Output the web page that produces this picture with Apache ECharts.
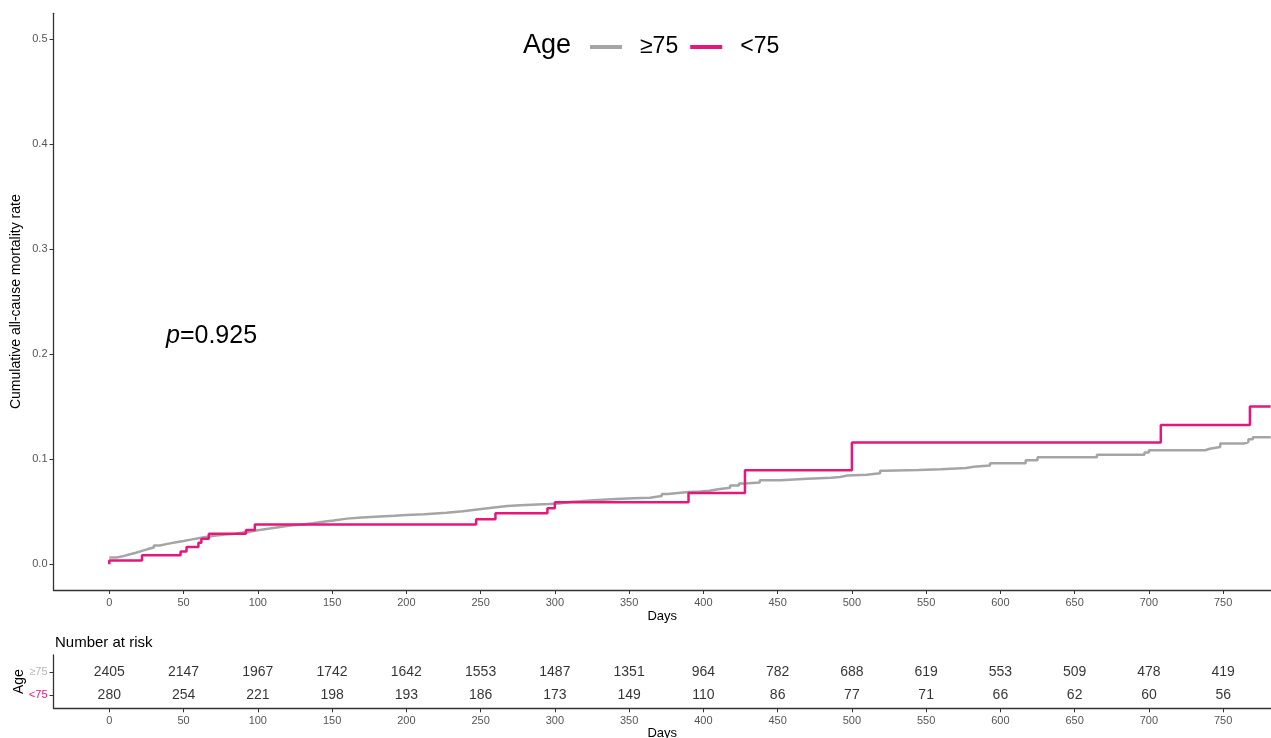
<!DOCTYPE html>
<html>
<head>
<meta charset="utf-8">
<script src="https://cdn.jsdelivr.net/npm/echarts@6.0.0/dist/echarts.min.js"></script>
<style>
html,body{margin:0;padding:0;background:#fff;}
#chart{width:1271px;height:738px;}
</style>
</head>
<body>
<div id="chart"></div>
<script>
// ---- Data ----
const groupNames = ['≥75', '<75'];

const olderDays = [0,5,10,14,18,22,26,30,34,40,45,50,55,60,66,72,78,85,90,95,100,108,115,122,130,137,144,151,160,170,182,192,200,212,227,238,245,252,259,268,277,288,296,303,310,317,326,335,345,353,364,372,376,390,398,404,410,418,424,428,438,452,470,486,492,497,510,519,522,545,560,577,582,593,617,625,665,697,700,738,741,748,764,767,770,782];
const olderRate = [0.0065,0.0080,0.0095,0.0110,0.0128,0.0145,0.0160,0.0180,0.0197,0.0210,0.0222,0.0235,0.0248,0.0262,0.0273,0.0284,0.0292,0.0302,0.0311,0.0325,0.0340,0.0355,0.0370,0.0380,0.0392,0.0405,0.0418,0.0435,0.0445,0.0455,0.0462,0.0470,0.0476,0.0490,0.0505,0.0518,0.0530,0.0542,0.0555,0.0563,0.0570,0.0575,0.0580,0.0594,0.0600,0.0610,0.0618,0.0625,0.0630,0.0634,0.0650,0.0670,0.0689,0.0693,0.0700,0.0715,0.0730,0.0750,0.0770,0.0780,0.0800,0.0815,0.0825,0.0832,0.0845,0.0854,0.0867,0.0890,0.0898,0.0905,0.0917,0.0930,0.0940,0.0962,0.0990,0.1020,0.1044,0.1065,0.1086,0.1100,0.1117,0.1150,0.1165,0.1190,0.1210,0.1210];

const youngerDays = [0,0,22,48,52,60,62,67,92,98,247,260,295,300,390,428,500,708,768,782];
const youngerRate = [0,0.0036,0.0086,0.0121,0.0165,0.0206,0.0244,0.0292,0.0327,0.0378,0.0429,0.0486,0.0533,0.0590,0.0678,0.0895,0.1159,0.1327,0.1502,0.1502];

const riskDays = [0,50,100,150,200,250,300,350,400,450,500,550,600,650,700,750];
const riskOlder = [2405,2147,1967,1742,1642,1553,1487,1351,964,782,688,619,553,509,478,419];
const riskYounger = [280,254,221,198,193,186,173,149,110,86,77,71,66,62,60,56];

const yTicks = [0,0.1,0.2,0.3,0.4,0.5];
const pText = '0.925';

// ---- Styles ----
const GRAY = '#a5a5a5';
const PINK = '#e6177a';
const FONT = 'Liberation Sans';

const chart = echarts.init(document.getElementById('chart'), null, {renderer: 'canvas'});

function xAxisFor(grid, gap) {
  return {
    gridIndex: grid,
    type: 'value',
    min: -37.57,
    max: 782.2,
    axisLine: {show: true, onZero: false, lineStyle: {color: '#333', width: 1.3}},
    axisTick: {show: true, length: 4, customValues: riskDays, lineStyle: {color: '#333'}},
    axisLabel: {customValues: riskDays, fontSize: 11, color: '#555', margin: 7, fontFamily: FONT},
    splitLine: {show: false},
    name: 'Days',
    nameLocation: 'middle',
    nameGap: gap,
    nameMoveOverlap: false,
    nameTextStyle: {fontSize: 13, color: '#000', fontFamily: FONT}
  };
}

const option = {
  animation: false,
  textStyle: {fontFamily: FONT},
  title: [
    {text: 'Age', left: 523, top: 32, padding: 0,
     textStyle: {fontSize: 27, fontWeight: 'normal', color: '#000', fontFamily: FONT}},
    {text: '{i|p}=' + pText, left: 166, top: 324, padding: 0,
     textStyle: {fontSize: 25, fontWeight: 'normal', color: '#000', fontFamily: FONT,
       rich: {i: {fontStyle: 'italic', fontSize: 25, color: '#000', fontFamily: FONT}}}},
    {text: 'Number at risk', left: 55, top: 635, padding: 0,
     textStyle: {fontSize: 15, fontWeight: 'normal', color: '#000', fontFamily: FONT}}
  ],
  legend: {
    data: groupNames,
    left: 590,
    top: 33,
    padding: 0,
    icon: 'rect',
    itemWidth: 32,
    itemHeight: 4,
    itemGap: 12,
    textStyle: {fontSize: 23, color: '#000', fontFamily: FONT, padding: [0, 0, 0, 13], lineHeight: 28}
  },
  grid: [
    {left: 53.5, top: 13.3, right: 0, height: 576.7, containLabel: false, outerBoundsMode: 'none'},
    {left: 53.5, top: 655, right: 0, height: 53.3, containLabel: false, outerBoundsMode: 'none'}
  ],
  xAxis: [xAxisFor(0, 20), xAxisFor(1, 19)],
  yAxis: [
    {
      gridIndex: 0,
      type: 'value',
      min: -0.02448,
      max: 0.5248,
      axisLine: {show: true, onZero: false, lineStyle: {color: '#333', width: 1.3}},
      axisTick: {show: true, length: 4, customValues: yTicks, lineStyle: {color: '#333'}},
      axisLabel: {customValues: yTicks, fontSize: 11, color: '#555', margin: 6,
        formatter: v => Number(v).toFixed(1)},
      splitLine: {show: false},
      name: 'Cumulative all-cause mortality rate',
      nameLocation: 'middle',
      nameGap: 30,
      nameMoveOverlap: false,
      nameTextStyle: {fontSize: 14, color: '#000', fontFamily: FONT}
    },
    {
      gridIndex: 1,
      type: 'value',
      min: 0.43,
      max: 2.72,
      axisLine: {show: true, onZero: false, lineStyle: {color: '#333', width: 1.3}},
      axisTick: {show: true, length: 4, customValues: [1, 2], lineStyle: {color: '#333'}},
      axisLabel: {customValues: [1, 2], fontSize: 11, margin: 6,
        formatter: v => (Math.round(v) === 2 ? '{g|' + groupNames[0] + '}' : '{p|' + groupNames[1] + '}'),
        rich: {g: {color: '#b5b5b5', fontSize: 11, fontFamily: FONT}, p: {color: PINK, fontSize: 11, fontFamily: FONT}}},
      splitLine: {show: false},
      name: 'Age',
      nameLocation: 'middle',
      nameGap: 27,
      nameMoveOverlap: false,
      nameTextStyle: {fontSize: 14, color: '#000', fontFamily: FONT}
    }
  ],
  series: [
    {
      name: groupNames[0],
      type: 'line',
      xAxisIndex: 0, yAxisIndex: 0,
      step: 'end',
      showSymbol: false,
      symbol: 'none',
      color: GRAY,
      lineStyle: {color: GRAY, width: 2.5},
      data: olderDays.map((d, i) => [d, olderRate[i]]),
      z: 2
    },
    {
      name: groupNames[1],
      type: 'line',
      xAxisIndex: 0, yAxisIndex: 0,
      step: 'end',
      showSymbol: false,
      symbol: 'none',
      color: PINK,
      lineStyle: {color: PINK, width: 2.5},
      data: youngerDays.map((d, i) => [d, youngerRate[i]]),
      z: 3
    },
    {
      name: 'risk-table',
      type: 'scatter',
      xAxisIndex: 1, yAxisIndex: 1,
      symbolSize: 1,
      itemStyle: {color: 'rgba(0,0,0,0)'},
      silent: true,
      label: {show: true, position: 'inside', fontSize: 14, color: '#000', fontFamily: FONT,
        formatter: p => String(p.value[2])},
      data: riskDays.map((d, i) => [d, 2, riskOlder[i]]).concat(riskDays.map((d, i) => [d, 1, riskYounger[i]]))
    }
  ]
};

chart.setOption(option);
</script>
</body>
</html>
